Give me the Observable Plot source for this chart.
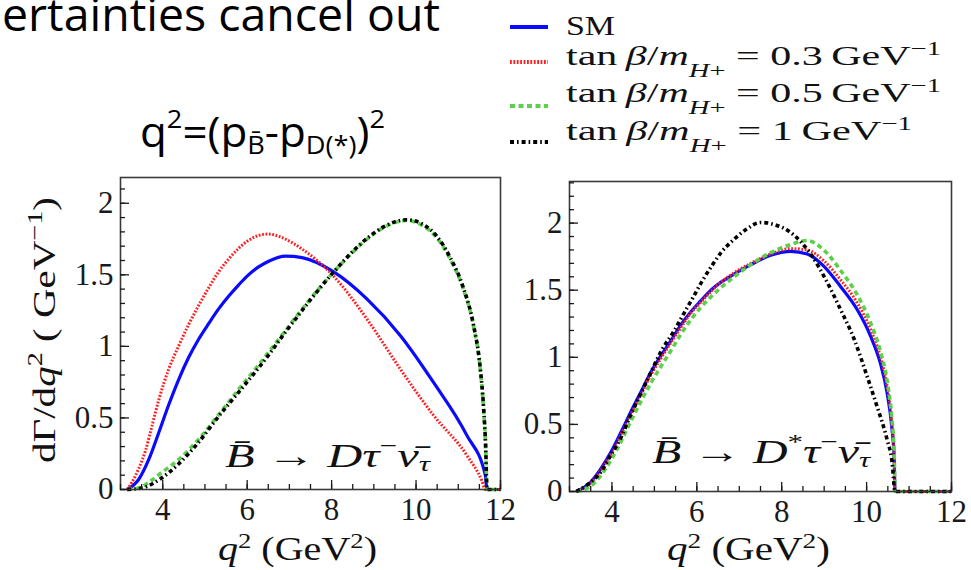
<!DOCTYPE html>
<html><head><meta charset="utf-8">
<script src="https://cdn.jsdelivr.net/npm/d3@7"></script>
<script src="https://cdn.jsdelivr.net/npm/@observablehq/plot@0.6"></script>
<style>
html,body{margin:0;padding:0;background:#fff;}
#fig{position:relative;width:971px;height:570px;overflow:hidden;background:#fff;}
#left{position:absolute;left:0;top:170px;}
#right{position:absolute;left:520px;top:170px;}
#overlay{position:absolute;left:0;top:0;}
</style></head><body>
<div id="fig">
  <div id="left"></div>
  <div id="right"></div>
  <svg id="overlay" width="971" height="570" font-family="'Liberation Serif', 'Times New Roman', serif" fill="#111">
    <text x="2" y="31" font-family="'Open Sans', sans-serif" font-size="46" textLength="438" lengthAdjust="spacingAndGlyphs" fill="#000">ertainties cancel out</text>
    <text x="140" y="147" font-family="'Open Sans', sans-serif" font-size="42" textLength="245" lengthAdjust="spacingAndGlyphs" fill="#000">q<tspan font-size="26" dy="-19">2</tspan><tspan dy="19">=(p</tspan><tspan font-size="26" dy="7">B̄</tspan><tspan dy="-7">-p</tspan><tspan font-size="26" dy="7">D(*)</tspan><tspan dy="-7">)</tspan><tspan font-size="26" dy="-19">2</tspan></text>
    <text transform="translate(55,330) rotate(-90)" text-anchor="middle" font-size="32" textLength="266" lengthAdjust="spacingAndGlyphs">dΓ/d<tspan font-style="italic">q</tspan><tspan font-size="22" dy="-13">2</tspan><tspan dy="13"> ( GeV</tspan><tspan font-size="22" dy="-13">−1</tspan><tspan dy="13">)</tspan></text>
    <text x="218" y="560" font-size="33" textLength="159" lengthAdjust="spacingAndGlyphs"><tspan font-style="italic">q</tspan><tspan font-size="22" dy="-12">2</tspan><tspan dy="12"> (GeV</tspan><tspan font-size="22" dy="-12">2</tspan><tspan dy="12">)</tspan></text>
    <text x="667" y="560" font-size="33" textLength="163" lengthAdjust="spacingAndGlyphs"><tspan font-style="italic">q</tspan><tspan font-size="22" dy="-12">2</tspan><tspan dy="12"> (GeV</tspan><tspan font-size="22" dy="-12">2</tspan><tspan dy="12">)</tspan></text>
    <text x="225" y="467" font-size="34" textLength="205" lengthAdjust="spacingAndGlyphs"><tspan font-style="italic">B̄</tspan> → <tspan font-style="italic">Dτ</tspan><tspan font-size="22" dy="-14">−</tspan><tspan dy="14" font-style="italic">ν̄</tspan><tspan font-size="22" dy="4" font-style="italic">τ</tspan></text>
    <text x="652" y="463" font-size="34" textLength="218" lengthAdjust="spacingAndGlyphs"><tspan font-style="italic">B̄</tspan> → <tspan font-style="italic">D</tspan><tspan font-size="22" dy="-14">*</tspan><tspan dy="14" font-style="italic">τ</tspan><tspan font-size="22" dy="-14">−</tspan><tspan dy="14" font-style="italic">ν̄</tspan><tspan font-size="22" dy="4" font-style="italic">τ</tspan></text>
    <g id="legend"></g>
  </svg>
</div>
<script>
// ---------- data ----------
const qRange = [3, 12];
const yMaxD = 2.18;
const yMaxDs = 2.31;
const xMajorTicks = [4, 6, 8, 10, 12];
const yMajorTicks = [0, 0.5, 1, 1.5, 2];
const seriesOrder = ["SM", "0.3", "0.5", "1"];

// B -> D tau nu  (left panel)
const qD_SM = [3.16, 3.43, 3.67, 3.91, 4.14, 4.38, 4.61, 4.85, 5.09, 5.32, 5.56, 5.8, 6.03, 6.27, 6.51, 6.91, 7.3, 8.05, 8.84, 9.63, 10.41, 11.2, 11.64, 11.68, 12];
const vD_SM = [0, 0.07, 0.21, 0.40, 0.59, 0.77, 0.92, 1.05, 1.16, 1.26, 1.35, 1.43, 1.50, 1.555, 1.595, 1.63, 1.62, 1.52, 1.33, 1.075, 0.75, 0.38, 0.10, 0, 0];
const qD_03 = [3.16, 3.27, 3.43, 3.59, 3.75, 3.91, 4.14, 4.38, 4.61, 4.85, 5.09, 5.32, 5.56, 5.8, 6.03, 6.27, 6.51, 6.83, 7.3, 8.05, 8.84, 9.63, 10.41, 11.2, 11.56, 11.64, 12];
const vD_03 = [0, 0.05, 0.145, 0.27, 0.45, 0.63, 0.84, 1.005, 1.15, 1.285, 1.41, 1.52, 1.61, 1.685, 1.74, 1.775, 1.785, 1.76, 1.68, 1.49, 1.19, 0.84, 0.52, 0.24, 0.06, 0, 0];
const qD_05 = [3.16, 3.43, 3.67, 3.98, 4.38, 4.85, 5.32, 5.8, 6.27, 6.51, 6.83, 7.22, 7.62, 8.05, 8.44, 8.84, 9.23, 9.78, 10.18, 10.49, 10.81, 11.12, 11.36, 11.52, 11.6, 11.65, 11.68, 12];
const vD_05 = [0, 0.01, 0.05, 0.12, 0.21, 0.35, 0.52, 0.70, 0.87, 0.96, 1.08, 1.23, 1.375, 1.52, 1.64, 1.75, 1.83, 1.88, 1.84, 1.76, 1.61, 1.40, 1.145, 0.84, 0.56, 0.28, 0, 0];
const qD_1 = [3.16, 3.5, 3.95, 4.38, 4.85, 5.32, 5.8, 6.27, 6.51, 6.83, 7.22, 7.62, 8.05, 8.44, 8.84, 9.23, 9.78, 10.18, 10.49, 10.81, 11.12, 11.36, 11.52, 11.6, 11.65, 11.68, 12];
const vD_1 = [0, 0.01, 0.075, 0.18, 0.33, 0.51, 0.68, 0.85, 0.94, 1.07, 1.22, 1.37, 1.52, 1.645, 1.755, 1.835, 1.885, 1.85, 1.77, 1.62, 1.41, 1.15, 0.85, 0.57, 0.29, 0, 0];

// B -> D* tau nu  (right panel)
const qDs = [3.16, 3.5, 3.74, 3.97, 4.21, 4.44, 4.68, 4.92, 5.15, 5.39, 5.62, 5.86, 6.09, 6.33, 6.57, 6.88, 7.27, 7.74, 8.21, 8.6, 8.99, 9.38, 9.77, 10.09, 10.32, 10.48, 10.59, 10.65, 10.67, 12];
const vDs_SM = [0, 0.07, 0.17, 0.29, 0.44, 0.59, 0.74, 0.89, 1.01, 1.125, 1.24, 1.34, 1.42, 1.50, 1.56, 1.62, 1.69, 1.76, 1.79, 1.77, 1.68, 1.53, 1.36, 1.16, 0.96, 0.74, 0.49, 0.24, 0, 0];
const vDs_03 = [0, 0.06, 0.16, 0.27, 0.42, 0.57, 0.72, 0.87, 0.99, 1.11, 1.22, 1.33, 1.41, 1.49, 1.56, 1.63, 1.70, 1.77, 1.81, 1.80, 1.72, 1.58, 1.41, 1.21, 1.01, 0.79, 0.53, 0.26, 0, 0];
const vDs_05 = [0, 0.04, 0.12, 0.23, 0.37, 0.52, 0.67, 0.81, 0.93, 1.05, 1.17, 1.28, 1.37, 1.45, 1.52, 1.60, 1.69, 1.78, 1.84, 1.87, 1.80, 1.65, 1.47, 1.26, 1.05, 0.83, 0.56, 0.28, 0, 0];
const qDs_1 = [3.16, 3.27, 3.5, 3.74, 3.97, 4.21, 4.44, 4.68, 4.92, 5.15, 5.47, 5.7, 5.9, 6.13, 6.37, 6.57, 6.88, 7.15, 7.5, 7.82, 8.21, 8.68, 9.07, 9.38, 9.7, 10.01, 10.24, 10.48, 10.6, 10.67, 12];
const vDs_1 = [0, 0.02, 0.07, 0.145, 0.27, 0.40, 0.57, 0.73, 0.89, 1.04, 1.20, 1.33, 1.44, 1.57, 1.69, 1.78, 1.88, 1.95, 2.005, 1.99, 1.93, 1.77, 1.56, 1.36, 1.14, 0.86, 0.64, 0.39, 0.22, 0, 0];

// ---------- styles ----------
const styles = {
  "SM":  {color: "#0a0aff", width: 3.2, dash: null},
  "0.3": {color: "#ff1f1f", width: 3, dash: "1.8 1.6"},
  "0.5": {color: "#5ccf4c", width: 3.6, dash: "5 3.5"},
  "1":   {color: "#000000", width: 3.6, dash: "4 3 1.6 3"}
};

const zip = (s, q, v) => q.map((x, i) => ({s, q: x, v: v[i]}));
const rowsD = [].concat(zip("SM", qD_SM, vD_SM), zip("0.3", qD_03, vD_03), zip("0.5", qD_05, vD_05), zip("1", qD_1, vD_1));
const rowsDs = [].concat(zip("SM", qDs, vDs_SM), zip("0.3", qDs, vDs_03), zip("0.5", qDs, vDs_05), zip("1", qDs_1, vDs_1));

function makePanel(rows, yMax, m, w) {
  return Plot.plot({
    width: w, height: 400,
    marginLeft: m.l, marginRight: m.r, marginTop: m.t, marginBottom: m.b,
    x: {domain: qRange, label: null},
    y: {domain: [0, yMax], label: null},
    style: {fontFamily: "'Liberation Serif', 'Times New Roman', serif", fontSize: "31px", color: "#1a1a1a", background: "transparent", overflow: "visible"},
    marks: [
      ...seriesOrder.map(s => Plot.line(rows.filter(d => d.s === s), {
        x: "q", y: "v", stroke: styles[s].color, strokeWidth: styles[s].width,
        strokeDasharray: styles[s].dash, curve: "monotone-x", strokeLinecap: "butt"
      })),
      Plot.frame({stroke: "#3a3a3a", strokeWidth: 1.6}),
      Plot.axisX(d3.range(3, 12.001, 0.5), {tickSize: -5, fill: "none", tickFormat: () => "", label: null, strokeWidth: 1.3}),
      Plot.axisX(xMajorTicks, {tickSize: -9, tickPadding: 17, tickFormat: d => String(d), label: null, strokeWidth: 1.3}),
      Plot.axisY(d3.range(0, yMax, 0.1), {tickSize: -5, fill: "none", tickFormat: () => "", label: null, strokeWidth: 1.3}),
      Plot.axisY(yMajorTicks, {tickSize: -9, tickPadding: 16, tickFormat: d => String(d), label: null, strokeWidth: 1.3})
    ]
  });
}

document.getElementById("left").appendChild(makePanel(rowsD, yMaxD, {l: 120, r: 20, t: 7, b: 81}, 520));
document.getElementById("right").appendChild(makePanel(rowsDs, yMaxDs, {l: 49, r: 20, t: 11, b: 79}, 451));

// ---------- legend ----------
const lg = d3.select("#legend");
const swatchY = [27, 62, 106, 142];
const textY = [35, 65, 102, 140];
const textW = [49, 375, 375, 346];
seriesOrder.forEach((s, i) => {
  lg.append("line").attr("x1", 510).attr("x2", 548).attr("y1", swatchY[i]).attr("y2", swatchY[i])
    .attr("stroke", styles[s].color).attr("stroke-width", 4)
    .attr("stroke-dasharray", styles[s].dash);
  const t = lg.append("text").attr("x", 566).attr("y", textY[i]).attr("font-size", 28)
    .attr("textLength", textW[i]).attr("lengthAdjust", "spacingAndGlyphs");
  if (s === "SM") { t.text("SM"); return; }
  t.append("tspan").text("tan\u2009");
  t.append("tspan").attr("font-style", "italic").text("β");
  t.append("tspan").text("/");
  t.append("tspan").attr("font-style", "italic").text("m");
  t.append("tspan").attr("font-size", 19).attr("dy", 12).attr("font-style", "italic").text("H");
  t.append("tspan").attr("font-size", 19).text("+");
  t.append("tspan").attr("dy", -12).text(" = " + s + "\u2009GeV");
  t.append("tspan").attr("font-size", 19).attr("dy", -10).text("−1");
});
</script>
</body></html>
